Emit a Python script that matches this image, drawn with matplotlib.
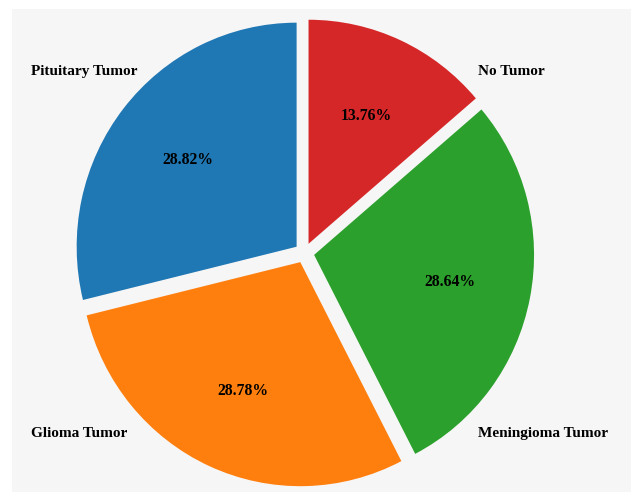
import matplotlib.pyplot as plt
from matplotlib.patches import Rectangle

# data
labels = ["Pituitary Tumor", "Glioma Tumor", "Meningioma Tumor", "No Tumor"]
shares = [28.82, 28.78, 28.64, 13.76]
colors = ["#1f77b4", "#ff7f0e", "#2ca02c", "#d62728"]

plt.rcParams['font.family'] = ['Liberation Serif', 'DejaVu Serif']

fig = plt.figure(figsize=(6.31, 4.92), dpi=100)
fig.patch.set_facecolor("white")
# light gray panel behind the pie
fig.add_artist(Rectangle((12 / 631, 0), 619 / 631, 483 / 492,
                         transform=fig.transFigure, facecolor="#f6f6f6",
                         edgecolor="none", zorder=-10))

ax = fig.add_axes([0, 0, 1, 1])
ax.set_facecolor("none")

wedges, texts, autotexts = ax.pie(
    shares, labels=labels, colors=colors, startangle=90,
    explode=[0.045] * len(shares), autopct="%.2f%%", pctdistance=0.63,
    textprops=dict(fontsize=11, fontweight="bold", color="black"))

# corner placement of the category labels
label_pos = [(-1.243, 0.808), (-1.243, -0.808), (0.789, -0.808), (0.789, 0.808)]
for t, (x, y) in zip(texts, label_pos):
    t.set_position((x, y))
    t.set_ha("left")
    t.set_va("center")
for t in autotexts:
    t.set_fontsize(11.3)

ax.set_xlim(-1.384, 1.485)
ax.set_ylim(-1.067, 1.129)
ax.set_aspect("auto")
ax.axis("off")

fig.savefig("out.png", dpi=100, facecolor=fig.get_facecolor())
